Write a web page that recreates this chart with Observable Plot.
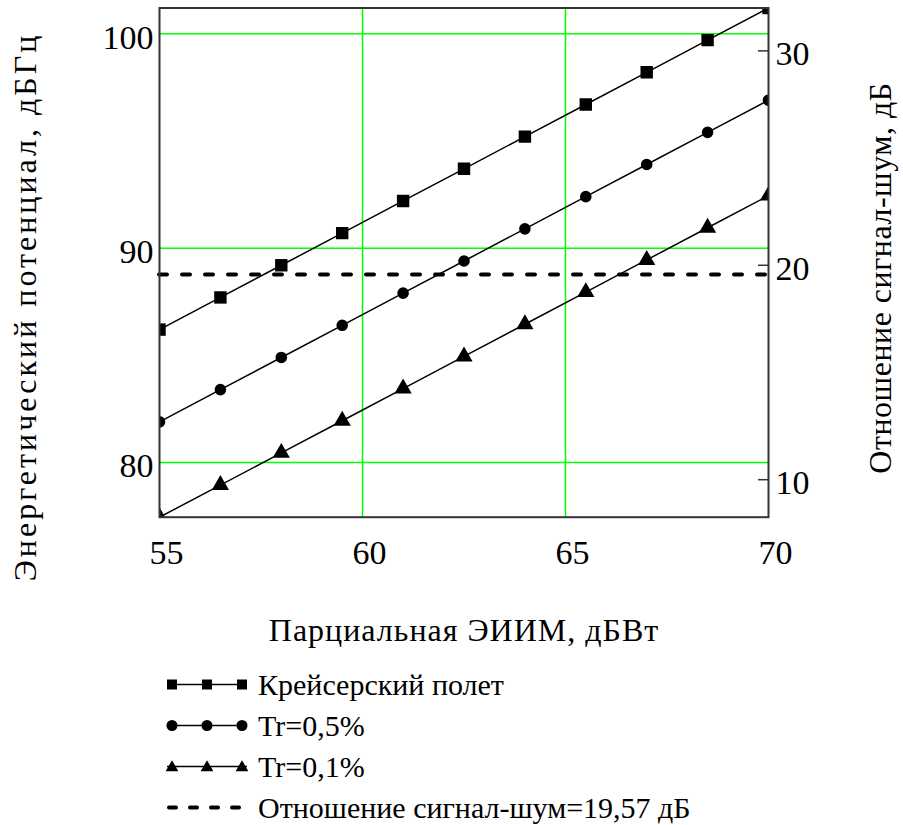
<!DOCTYPE html>
<html><head><meta charset="utf-8">
<script src="https://cdn.jsdelivr.net/npm/d3@7"></script>
<script src="https://cdn.jsdelivr.net/npm/@observablehq/plot@0.6"></script>
<style>
body{margin:0;background:#fff;font-family:"Liberation Serif","DejaVu Serif",serif;}
#chart{width:903px;}
.legend{padding-left:165px;}
.row{display:flex;align-items:center;height:41px;font-size:30px;color:#000;white-space:nowrap;}
.row svg{margin-right:9px;flex:none;}
</style></head><body><div id="chart"></div><script>
// Partial EIRP, dBW
const eirp = [55, 56.5, 58, 59.5, 61, 62.5, 64, 65.5, 67, 68.5, 70];
// Energy potential, dB-Hz
const cruise = [86.2, 87.7, 89.2, 90.7, 92.2, 93.7, 95.2, 96.7, 98.2, 99.7, 101.2];
const tr05   = [81.9, 83.4, 84.9, 86.4, 87.9, 89.4, 90.9, 92.4, 93.9, 95.4, 96.9];
const tr01   = [77.45, 78.95, 80.45, 81.95, 83.45, 84.95, 86.45, 87.95, 89.45, 90.95, 92.45];
// Signal-to-noise threshold, dB, and right-axis offset (dB-Hz at 0 dB)
const snrThreshold = 19.57;
const snrOffset = 69.2;
const xTicks = [55, 60, 65, 70];
const xGrid = [60, 65];
const yTicks = [80, 90, 100];
const snrTicks = [10, 20, 30];
const seriesNames = ["Крейсерский полет", "Tr=0,5%", "Tr=0,1%", "Отношение сигнал-шум=19,57 дБ"];
const symbols = ["square", "circle", "triangle"];
const xTitle = "Парциальная ЭИИМ, дБВт";
const yTitle = "Энергетический потенциал, дБГц";
const y2Title = "Отношение сигнал-шум, дБ";

const seriesValues = [cruise, tr05, tr01];
const rows = seriesValues.flatMap((vals, s) => eirp.map((x, i) => ({x, y: vals[i], s})));

const W = 903, H = 664;
const font = "'Liberation Serif', 'DejaVu Serif', serif";
const dotR = [7, 5.8, 6.4];

const marks = [
  Plot.gridX(xGrid, {stroke: "#00ff00", strokeOpacity: 1, strokeWidth: 1.5}),
  Plot.gridY(yTicks, {stroke: "#00ff00", strokeOpacity: 1, strokeWidth: 1.5}),
  Plot.ruleY([snrThreshold + snrOffset], {stroke: "#000", strokeWidth: 4, strokeDasharray: "8,15", strokeLinecap: "round"}),
  Plot.line(rows, {x: "x", y: "y", z: "s", stroke: "#000", strokeWidth: 1.5, clip: true}),
];
symbols.forEach((sym, s) => {
  marks.push(Plot.dot(rows.filter(d => d.s === s), {x: "x", y: "y", symbol: () => sym, r: dotR[s], fill: "#000", stroke: "none", clip: true}));
});
marks.push(
  Plot.frame({stroke: "#333", strokeWidth: 2}),
  Plot.axisX(xTicks, {tickSize: 0, tickPadding: 23, dx: 7, label: null, fontSize: 34}),
  Plot.axisY(yTicks, {anchor: "left", tickSize: 0, tickPadding: 6, dy: 4, label: null, fontSize: 34}),
  Plot.axisY(snrTicks.map(v => v + snrOffset), {anchor: "right", tickSize: -11, tickFormat: () => "", label: null, stroke: "#333", strokeWidth: 1.5}),
  Plot.axisY(snrTicks.map(v => v + snrOffset), {anchor: "right", tickSize: 0, tickPadding: 7, dy: 3.5, tickFormat: d => String(Math.round(d - snrOffset)), label: null, fontSize: 34})
);

const plot = Plot.plot({
  width: W, height: H,
  marginLeft: 159, marginRight: 135, marginTop: 7.5, marginBottom: H - 516.7,
  style: {fontFamily: font, fontSize: "34px", color: "#000", background: "#fff", overflow: "visible"},
  x: {domain: [55, 70]},
  y: {domain: [77.45, 101.2]},
  symbol: {type: "identity"},
  marks
});
document.getElementById("chart").appendChild(plot);

const svg = d3.select(plot);
svg.append("text").attr("x", 464).attr("y", 630).attr("text-anchor", "middle").attr("dominant-baseline", "central")
  .attr("font-size", 32).attr("letter-spacing", 1).attr("fill", "#000").style("font-family", font).text(xTitle);
svg.append("text").attr("transform", "translate(25,307) rotate(-90)").attr("text-anchor", "middle").attr("dominant-baseline", "central")
  .attr("font-size", 32).attr("letter-spacing", 3).attr("fill", "#000").style("font-family", font).text(yTitle);
svg.append("text").attr("transform", "translate(880,278) rotate(-90)").attr("text-anchor", "middle").attr("dominant-baseline", "central")
  .attr("font-size", 32).attr("letter-spacing", 0.5).attr("fill", "#000").style("font-family", font).text(y2Title);

// Legend
const legend = d3.select("#chart").append("div").attr("class", "legend");
const symTypes = [d3.symbolSquare, d3.symbolCircle, d3.symbolTriangle];
const symSizes = [100, 95, 70];
seriesNames.forEach((name, i) => {
  const row = legend.append("div").attr("class", "row");
  const s = row.append("svg").attr("width", 84).attr("height", 41);
  if (i < 3) {
    s.append("line").attr("x1", 2).attr("x2", 82).attr("y1", 20.5).attr("y2", 20.5).attr("stroke", "#000").attr("stroke-width", 1.5);
    [7, 42, 77].forEach(cx => {
      s.append("path").attr("d", d3.symbol(symTypes[i], symSizes[i])()).attr("transform", `translate(${cx},${i === 2 ? 21.5 : 20.5})`).attr("fill", "#000");
    });
  } else {
    s.append("line").attr("x1", 4).attr("x2", 82).attr("y1", 20.5).attr("y2", 20.5).attr("stroke", "#000")
      .attr("stroke-width", 4).attr("stroke-dasharray", "7,14").attr("stroke-linecap", "round");
  }
  row.append("span").text(name);
});
</script></body></html>
